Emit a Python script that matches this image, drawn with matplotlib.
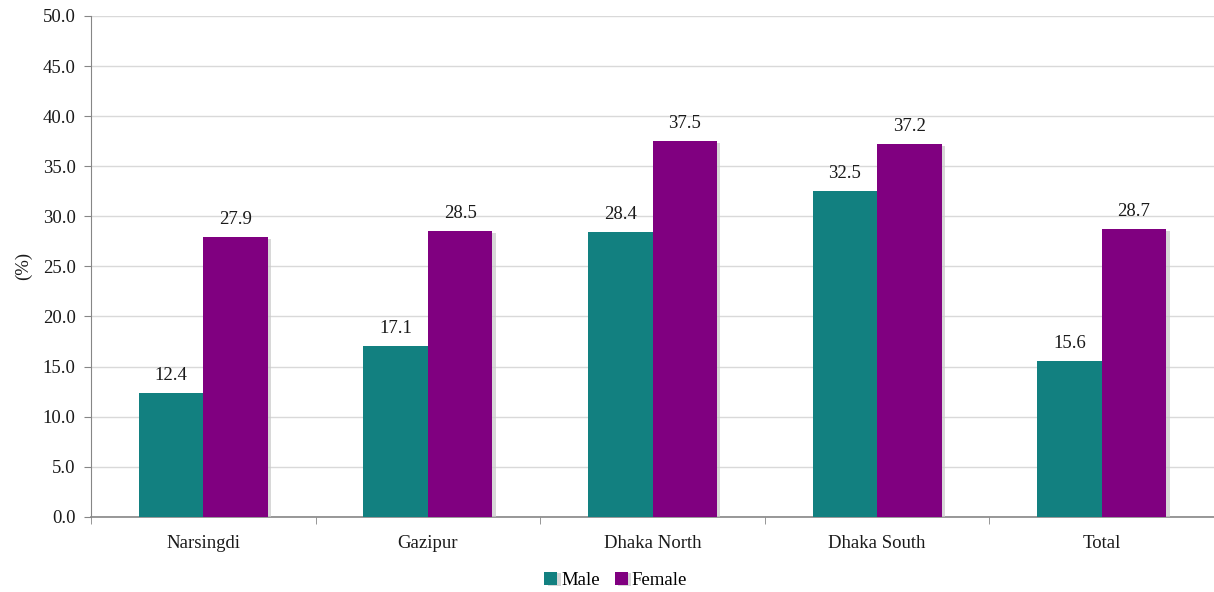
import matplotlib
matplotlib.use("Agg")
import matplotlib.pyplot as plt
import matplotlib.patheffects as pe
import numpy as np

plt.rcParams['font.family'] = ['Liberation Serif', 'DejaVu Serif']

districts = ['Narsingdi', 'Gazipur', 'Dhaka North', 'Dhaka South', 'Total']
male = [12.4, 17.1, 28.4, 32.5, 15.6]
female = [27.9, 28.5, 37.5, 37.2, 28.7]

male_color = '#128080'
female_color = '#800080'
axis_gray = '#868686'
fs = 13.5

fig = plt.figure(figsize=(12.14, 5.92), dpi=100)
ax = fig.add_axes([0.075, 0.127, 0.925, 0.846])

x = np.arange(len(districts))
width = 0.287
shadow = [pe.SimplePatchShadow(offset=(2.5, -1), shadow_rgbFace='#c8c8c8', alpha=0.7), pe.Normal()]

bars_m = ax.bar(x - width / 2, male, width, color=male_color, label='Male', zorder=3,
                path_effects=shadow)
bars_f = ax.bar(x + width / 2, female, width, color=female_color, label='Female', zorder=3,
                path_effects=shadow)

for bars, vals in ((bars_m, male), (bars_f, female)):
    for b, v in zip(bars, vals):
        ax.text(b.get_x() + b.get_width() / 2, v + 0.9, f'{v:.1f}', ha='center', va='bottom',
                fontsize=fs, color='#1a1a1a', zorder=4)

ax.set_ylim(0, 50)
ax.set_yticks(np.arange(0, 50.1, 5))
ax.set_yticklabels([f'{t:.1f}' for t in np.arange(0, 50.1, 5)])
ax.set_xlim(-0.5, 4.495)
ax.set_xticks(x)
ax.set_xticklabels(districts)
ax.set_xticks(np.arange(-0.5, 5, 1), minor=True)
ax.tick_params(axis='x', which='major', length=0, pad=13, labelsize=fs, labelcolor='#1a1a1a')
ax.tick_params(axis='x', which='minor', length=5, color=axis_gray, direction='out')
ax.tick_params(axis='y', length=5, color=axis_gray, labelsize=fs, labelcolor='#1a1a1a', pad=6)

ax.grid(axis='y', color='#d9d9d9', linewidth=1, zorder=0)
ax.set_axisbelow(True)
for s in ('top', 'right'):
    ax.spines[s].set_visible(False)
ax.spines['left'].set_color(axis_gray)
ax.spines['bottom'].set_color(axis_gray)
ax.spines['bottom'].set_linewidth(1.2)

ax.set_ylabel('(%)', fontsize=fs, color='#1a1a1a', labelpad=8)

leg = fig.legend(handles=[bars_m, bars_f], labels=['Male', 'Female'], loc='center',
                 bbox_to_anchor=(0.507, 0.02), ncol=2, frameon=False, fontsize=fs,
                 handlelength=0.7, handleheight=0.7, handletextpad=0.2, columnspacing=0.8)

fig.savefig('out.png', dpi=100)
